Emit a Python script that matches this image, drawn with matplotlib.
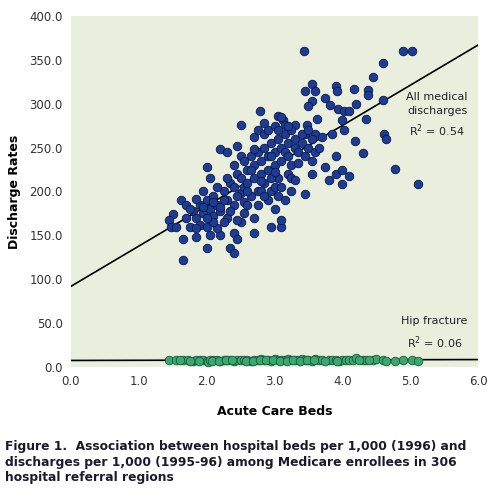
import matplotlib
matplotlib.use("Agg")
import matplotlib.pyplot as plt
import numpy as np

med_x = [3.43,4.9,5.03,4.6,4.45,3.55,3.9,3.92,3.45,3.6,4.17,4.38,4.38,3.75,4.6,3.55,3.5,3.82,3.93,4.02,4.1,4.2,2.78,3.05,3.12,3.15,3.3,2.5,2.85,3.48,3.62,4.35,4.0,4.02,3.45,3.6,3.85,4.62,4.65,4.18,4.3,3.9,4.78,5.12,3.9,4.0,4.1,4.0,3.8,3.75,3.55,3.45,2.2,2.3,2.45,2.0,1.62,1.7,1.5,1.45,1.47,1.55,1.65,1.65,1.75,1.85,2.0,2.05,2.2,2.35,2.4,2.4,2.45,2.7,2.95,3.1,3.1,2.7,3.0,2.5,2.15,
 1.8,1.85,1.9,1.95,1.9,2.0,2.05,2.1,2.1,2.15,2.2,2.25,2.3,2.3,2.35,2.4,2.4,2.45,2.5,2.5,2.55,2.55,2.6,2.6,2.65,2.65,2.7,2.7,2.75,2.75,2.8,2.8,2.85,2.85,2.9,2.9,2.95,2.95,3.0,3.0,3.05,3.05,3.1,3.1,3.15,3.15,3.2,3.2,3.25,3.25,3.3,3.3,3.35,3.4,3.45,3.5,3.55,3.6,3.65,3.2,3.25,3.0,2.9,2.8,2.6,2.35,2.25,2.15,2.05,1.95,1.85,1.75,1.7,2.0,2.1,2.3,2.4,2.5,2.55,2.7,2.75,2.85,2.9,3.0,3.05,3.1,3.2,2.65,2.95,3.05,3.1,3.25,3.15,2.85,2.75,2.55,2.45,2.2,2.0,1.85,2.6,2.8,3.0,3.35,3.4,3.5,3.55,3.7,3.3,2.95,2.7,2.45,2.25,2.1,1.95]
med_y = [360,360,360,346,330,322,320,314,314,314,317,316,310,306,304,303,297,298,294,292,292,300,292,286,282,276,276,276,278,276,283,283,282,270,266,266,265,265,260,258,244,240,226,208,220,225,218,208,213,228,220,197,248,245,252,228,190,185,174,167,160,160,146,122,160,148,136,150,150,136,130,153,146,153,160,160,167,170,180,165,158,
 178,170,185,175,162,190,180,172,195,185,178,200,190,170,210,205,185,220,198,215,205,188,225,210,240,195,230,215,245,200,235,220,250,210,240,225,255,200,245,230,260,215,250,235,265,245,255,240,270,230,250,260,245,255,240,250,260,245,250,220,215,205,190,200,185,178,165,205,215,200,192,180,170,160,165,215,230,240,235,262,270,265,270,275,270,285,275,225,215,195,205,200,190,195,185,175,168,182,170,158,200,212,222,232,265,270,235,262,213,240,248,195,190,188,182]

hip_x = [1.45,1.55,1.65,1.72,1.8,1.85,1.9,1.95,2.0,2.02,2.05,2.1,2.15,2.2,2.25,2.3,2.35,2.4,2.45,2.5,2.55,2.6,2.65,2.7,2.75,2.8,2.85,2.9,2.95,3.0,3.05,3.1,3.15,3.2,3.25,3.3,3.35,3.4,3.45,3.5,3.55,3.6,3.65,3.7,3.8,3.85,3.9,3.95,4.0,4.05,4.1,4.15,4.2,4.3,4.35,4.45,4.5,4.6,4.65,4.78,4.9,5.03,5.12,
 1.6,1.75,1.88,2.08,2.18,2.28,2.38,2.58,2.68,2.78,2.88,2.98,3.08,3.18,3.28,3.38,3.48,3.58,3.75,3.92,4.25,4.4]
hip_y = [7.5,8,7.5,8,7,8,7.5,8,7,6,8,7.5,8,7,8.5,7.5,8,7,7.5,8,7.5,8.5,7,8,7.5,9,8,8.5,7,9,8,8.5,7.5,9,8,8.5,7.5,9.5,8,8.5,7,9,8,7.5,8,7.5,8.5,7,8,7.5,8,7.5,10,8.5,7.5,8,9,8,7,7,7.5,8.5,7,
 8,7,6.5,7,6.5,8,7.5,6.5,7,8,7.5,8,7,6.5,7.5,7,8,7.5,7,7,8,7.5]

x_ticks = [0,1,2,3,4,5,6]
y_ticks = [0,50,100,150,200,250,300,350,400]

fig = plt.figure(figsize=(5.0,4.98), dpi=100)
ax = fig.add_axes([0.142,0.263,0.814,0.705])
ax.set_facecolor("#e9efdc")
for s in ax.spines.values():
    s.set_visible(False)
mx = np.array(med_x); my = np.array(med_y)
hx = np.array(hip_x); hy = np.array(hip_y)
xs = np.array([0,6])
ax.plot(xs, 92 + 45.8*xs, color="black", lw=1.2, zorder=1)
ax.plot(xs, [7.5, 8.5], color="black", lw=1.2, zorder=1)
ax.scatter(mx, my, s=38, c="#1c3c96", edgecolors="#0b1740", linewidths=0.6, zorder=3)
ax.scatter(hx, hy, s=38, c="#3aa873", edgecolors="#1d5a3c", linewidths=0.6, zorder=3)
ax.set_xlim(0,6); ax.set_ylim(0,400)
ax.set_xticks(x_ticks); ax.set_xticklabels([f"{v:.1f}" for v in x_ticks])
ax.set_yticks(y_ticks); ax.set_yticklabels([f"{v:.1f}" for v in y_ticks])
ax.tick_params(length=0, labelsize=8.5, colors="#333333", pad=6)
ax.set_xlabel("Acute Care Beds", fontsize=9, fontweight="bold", labelpad=12)
ax.set_ylabel("Discharge Rates", fontsize=9, fontweight="bold", labelpad=6)
ax.text(5.85, 287, "All medical\ndischarges\nR$^2$ = 0.54", ha="right", va="center", fontsize=8, color="#222222", linespacing=1.5, multialignment="center")
ax.text(5.85, 38, "Hip fracture\nR$^2$ = 0.06", ha="right", va="center", fontsize=8, color="#222222", linespacing=1.6, multialignment="center")
fig.text(0.01, 0.072, "Figure 1.  Association between hospital beds per 1,000 (1996) and\ndischarges per 1,000 (1995-96) among Medicare enrollees in 306\nhospital referral regions",
         ha="left", va="center", fontsize=8.8, fontweight="bold", color="#1a1a2a", linespacing=1.25)
fig.savefig("out.png", dpi=100, facecolor="white")
